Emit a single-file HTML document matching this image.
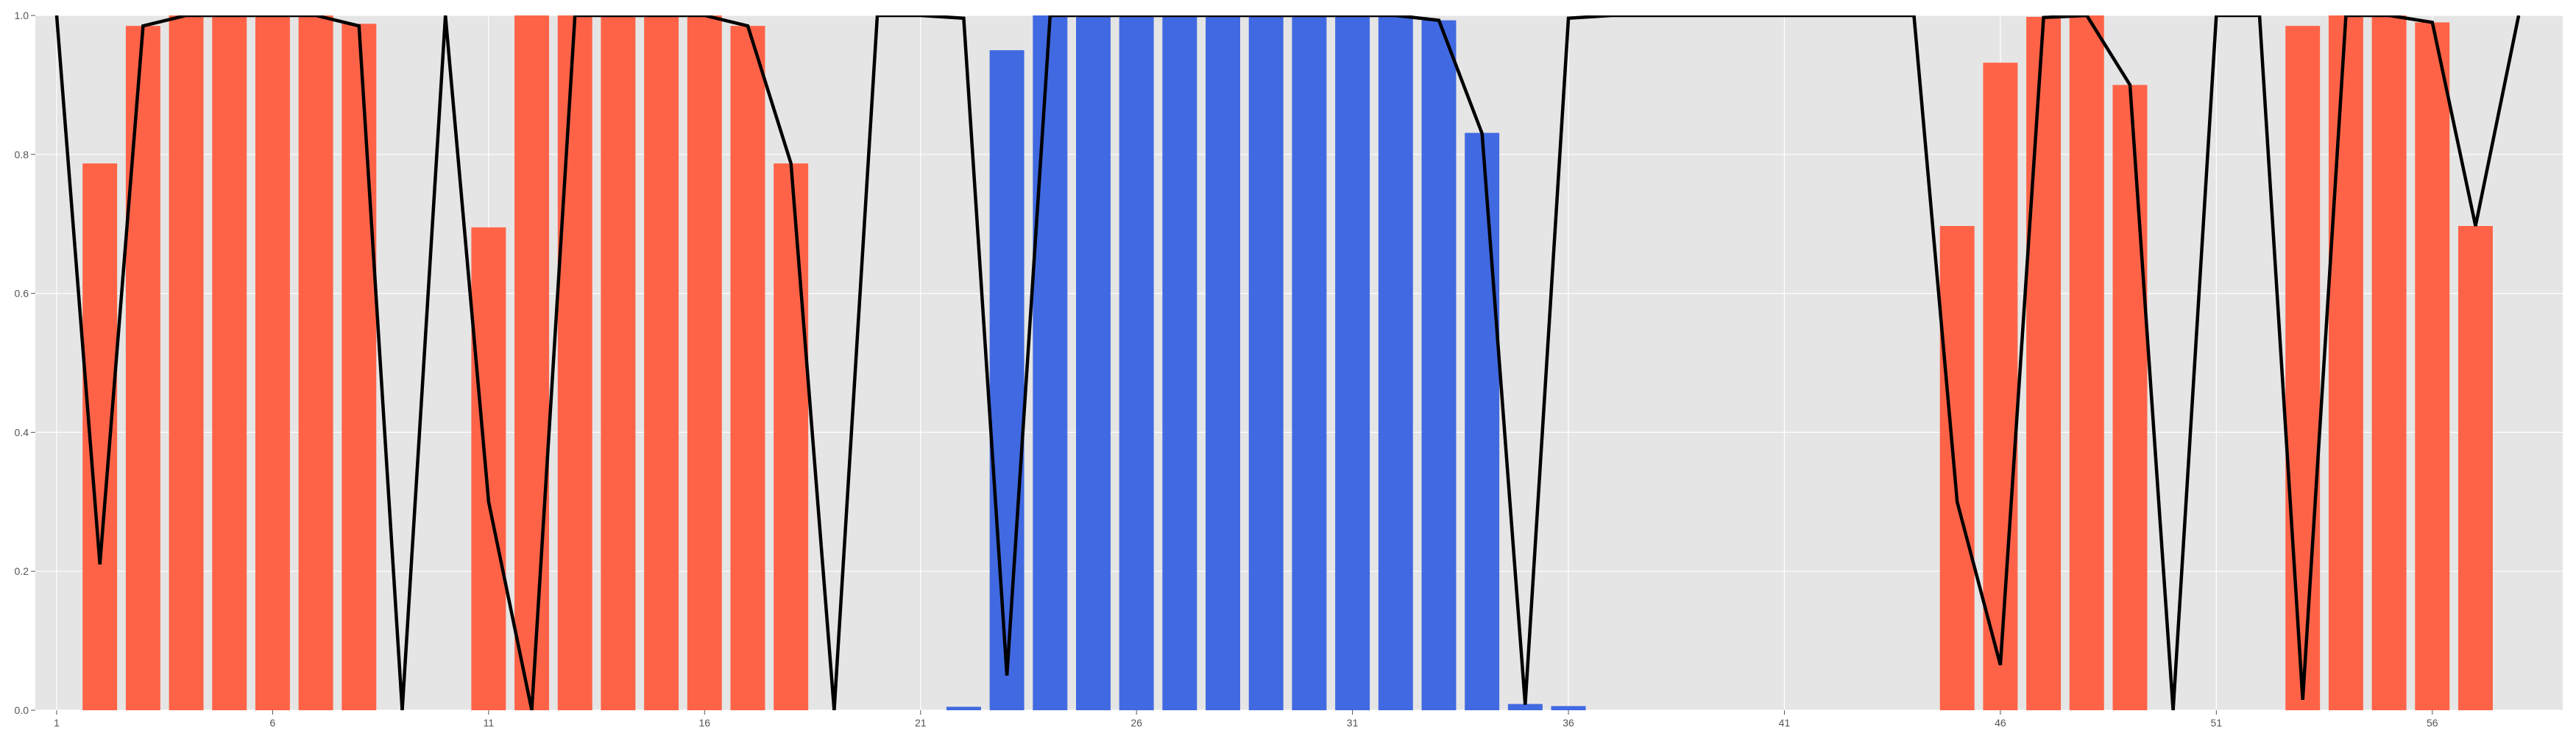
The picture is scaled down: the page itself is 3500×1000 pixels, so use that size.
<!DOCTYPE html>
<html><head><meta charset="utf-8"><style>
html,body{margin:0;padding:0;background:#fff;}
svg{display:block;}
text{font-family:"Liberation Sans",sans-serif;font-size:14px;fill:#555;}
</style></head><body>
<svg id="chart" width="3500" height="1000" viewBox="0 0 3500 1000" xmlns="http://www.w3.org/2000/svg"></svg>
<script>
const barIndex = [2,3,4,5,6,7,8,11,12,13,14,15,16,17,18,22,23,24,25,26,27,28,29,30,31,32,33,34,35,36,45,46,47,48,49,53,54,55,56,57];
const barValues = [0.787,0.985,1,1,1,1,0.988,0.695,1,1,1,1,1,0.985,0.787,0.005,0.95,1,1,1,1,1,1,1,1,1,0.993,0.831,0.009,0.006,0.697,0.932,0.998,1,0.9,0.985,1,1,0.99,0.697];
const barGroup = ["r","r","r","r","r","r","r","r","r","r","r","r","r","r","r","b","b","b","b","b","b","b","b","b","b","b","b","b","b","b","r","r","r","r","r","r","r","r","r","r"];
const lineValues = [1,0.21,0.985,1,1,1,1,0.985,0,1,0.30,0,1,1,1,1,0.985,0.787,0,1,1,0.996,0.05,1,1,1,1,1,1,1,1,1,0.993,0.83,0.008,0.996,1,1,1,1,1,1,1,1,0.30,0.065,0.997,1,0.9,0,1,1,0.015,1,1,0.99,0.697,1];
const xTickLabels = ["1","6","11","16","21","26","31","36","41","46","51","56"];
const yTickLabels = ["0.0","0.2","0.4","0.6","0.8","1.0"];

const NS="http://www.w3.org/2000/svg";
const svg=document.getElementById('chart');
const L=48,R=3482,T=21,B=965;
const xmin=0.506,xmax=59.02;
const xs=k=>L+(k-xmin)/(xmax-xmin)*(R-L);
const ys=v=>B-v*(B-T);
function mk(tag,attrs,parent){const e=document.createElementNS(NS,tag);for(const k in attrs)e.setAttribute(k,attrs[k]);(parent||svg).appendChild(e);return e;}

const bg=mk('rect',{x:L,y:T,width:R-L,height:B-T,fill:'#E5E5E5'});



const grid=mk('g',{});


yTickLabels.forEach(t=>{
  const y=ys(parseFloat(t));
  mk('line',{x1:L,x2:R,y1:y,y2:y,stroke:'#fff','stroke-width':1.2},grid);
  mk('line',{x1:L-6,x2:L,y1:y,y2:y,stroke:'#555','stroke-width':1},grid);
  const tx=mk('text',{x:L-9,y:y+5,'text-anchor':'end'});
  tx.textContent=t;
  
  
});
xTickLabels.forEach(t=>{
  const x=xs(parseFloat(t));
  mk('line',{x1:x,x2:x,y1:T,y2:B,stroke:'#fff','stroke-width':1.2},grid);
  mk('line',{x1:x,x2:x,y1:B,y2:B+6,stroke:'#555','stroke-width':1},grid);
  const tx=mk('text',{x:x,y:B+22,'text-anchor':'middle'});
  tx.textContent=t;
  
  
});

const bw=0.8;
barIndex.forEach((k,i)=>{
  const v=barValues[i];
  const x0=xs(k-bw/2),x1=xs(k+bw/2);
  const b=mk('rect',{x:x0,y:ys(v),width:x1-x0,height:ys(0)-ys(v),fill:barGroup[i]==='r'?'#FF6347':'#4169E1'});
  
  
});

const clip=mk('clipPath',{id:'pc'});
mk('rect',{x:L,y:T,width:R-L,height:B-T},clip);
const pts=lineValues.map((v,i)=>xs(i+1).toFixed(1)+','+ys(v).toFixed(1)).join(' ');
const pl=mk('polyline',{points:pts,fill:'none',stroke:'#000','stroke-width':4.5,'stroke-linejoin':'miter','clip-path':'url(#pc)'});


</script>
</body></html>
